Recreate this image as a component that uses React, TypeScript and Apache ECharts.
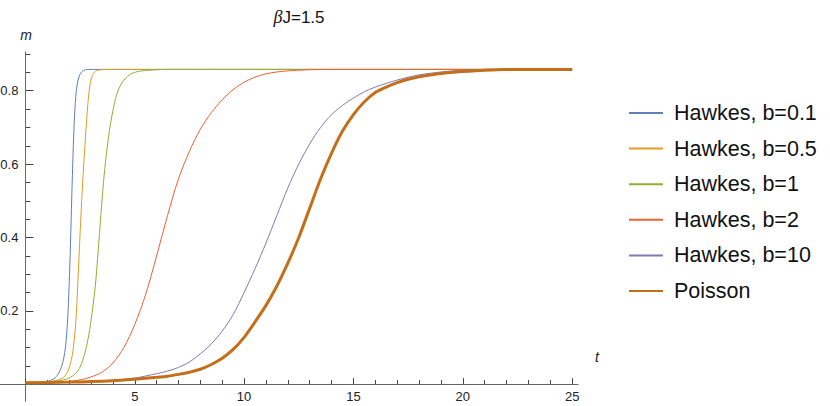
import React, { useEffect, useRef } from "react";
import * as echarts from "echarts";

const seriesNames = [
  "Hawkes, b=0.1",
  "Hawkes, b=0.5",
  "Hawkes, b=1",
  "Hawkes, b=2",
  "Hawkes, b=10",
  "Poisson",
];

const seriesColors = ["#5E81B5", "#E19C24", "#8FB032", "#EB6235", "#8778B3", "#C56E1A"];

const hawkesB01: [number, number][] = [
  [0, 0.004], [0.5, 0.005], [1.0, 0.008], [1.3, 0.015], [1.5, 0.028], [1.65, 0.048],
  [1.75, 0.07], [1.84, 0.105], [1.93, 0.175], [2.0, 0.27], [2.06, 0.38], [2.12, 0.51],
  [2.18, 0.63], [2.23, 0.71], [2.28, 0.765], [2.34, 0.805], [2.42, 0.832], [2.52, 0.847],
  [2.65, 0.855], [2.85, 0.858], [25, 0.858],
];

const hawkesB05: [number, number][] = [
  [0, 0.004], [1.0, 0.007], [1.5, 0.012], [1.8, 0.022], [2.0, 0.045], [2.16, 0.085],
  [2.3, 0.165], [2.4, 0.28], [2.5, 0.41], [2.6, 0.53], [2.7, 0.63], [2.8, 0.72],
  [2.88, 0.78], [2.96, 0.818], [3.05, 0.84], [3.2, 0.853], [3.45, 0.857], [4.0, 0.858],
  [25, 0.858],
];

const hawkesB1: [number, number][] = [
  [0, 0.004], [1.0, 0.006], [1.5, 0.009], [2.0, 0.017], [2.3, 0.03], [2.5, 0.047],
  [2.72, 0.085], [2.9, 0.135], [3.05, 0.195], [3.2, 0.27], [3.33, 0.366], [3.45, 0.46],
  [3.57, 0.55], [3.7, 0.626], [3.85, 0.695], [4.0, 0.745], [4.17, 0.789], [4.35, 0.815],
  [4.55, 0.832], [4.8, 0.845], [5.2, 0.853], [5.7, 0.856], [6.5, 0.858], [25, 0.858],
];

const hawkesB2: [number, number][] = [
  [0, 0.004], [1, 0.005], [2, 0.008], [2.5, 0.012], [3, 0.02], [3.5, 0.033], [4, 0.058],
  [4.5, 0.1], [5, 0.163], [5.5, 0.245], [6, 0.35], [6.5, 0.46], [7, 0.56], [7.5, 0.635],
  [8, 0.695], [8.5, 0.74], [9, 0.775], [9.5, 0.803], [10, 0.823], [10.5, 0.837],
  [11, 0.846], [11.5, 0.851], [12, 0.854], [13, 0.857], [14, 0.858], [25, 0.858],
];

const hawkesB10: [number, number][] = [
  [0, 0.004], [2, 0.006], [4, 0.011], [5, 0.017], [6, 0.029], [6.5, 0.036], [7, 0.046],
  [7.5, 0.061], [8, 0.083], [8.5, 0.11], [9, 0.145], [9.5, 0.19], [10, 0.25], [10.5, 0.315],
  [11, 0.385], [11.5, 0.46], [12, 0.535], [12.5, 0.6], [13, 0.655], [13.5, 0.7],
  [14, 0.735], [14.5, 0.76], [15, 0.78], [15.5, 0.797], [16, 0.81], [17, 0.829],
  [18, 0.843], [19, 0.851], [20, 0.856], [21, 0.858], [25, 0.858],
];

const poisson: [number, number][] = [
  [0, 0.004], [2, 0.006], [4, 0.01], [5, 0.014], [6, 0.019], [6.5, 0.022], [7, 0.027],
  [7.5, 0.033], [8, 0.041], [8.5, 0.054], [9, 0.071], [9.5, 0.095], [10, 0.128],
  [10.5, 0.17], [11, 0.215], [11.5, 0.268], [12, 0.33], [12.5, 0.4], [13, 0.48],
  [13.5, 0.56], [14, 0.63], [14.5, 0.69], [15, 0.735], [15.5, 0.77], [16, 0.795],
  [16.5, 0.81], [17, 0.822], [17.5, 0.831], [18, 0.838], [18.5, 0.843], [19, 0.847],
  [20, 0.852], [21, 0.856], [22, 0.858], [25, 0.858],
];

const seriesData = [hawkesB01, hawkesB05, hawkesB1, hawkesB2, hawkesB10, poisson];

// axis ticks: x majors every 5 (labels 5..25), minors every 1;
// y majors every 0.2 (labels 0.2..0.8), minors every 0.05 up to 0.9
const X_MAX = 25;
const X_MAJOR = 5;
const X_MINOR = 1;
const Y_MAX = 0.9;
const Y_MAJOR_MAX = 0.8;
const Y_MAJOR = 0.2;
const Y_MINOR = 0.05;

const FONT = "'Liberation Sans', Arial, sans-serif";
const AXIS_COLOR = "#666";
const TICK_COLOR = "#444";
const LABEL_COLOR = "#222";

export default function App() {
  const ref = useRef<HTMLDivElement>(null);

  useEffect(() => {
    if (!ref.current) return;
    const chart = echarts.init(ref.current, null, { renderer: "svg" });

    // plot geometry (pixels)
    const x0 = 25.4; // t = 0
    const pxPerT = 21.87;
    const y0 = 384.3; // m = 0
    const pxPerM = 367;
    const plotTop = y0 - Y_MAX * pxPerM;
    const plotWidth = X_MAX * pxPerT;
    const lineTop = 51.8;
    const axisRightEnd = 578;
    const axisBottomEnd = 401.2;

    const gridBase = { containLabel: false, outerBoundsMode: "none" };

    // a visible-but-empty axis (keeps every grid with a complete, rendered axis pair)
    const blankAxis = (gridIndex: number) => ({
      type: "value",
      gridIndex,
      min: 0,
      max: 1,
      show: true,
      axisLine: { show: false, onZero: false },
      axisTick: { show: false },
      axisLabel: { show: false },
      splitLine: { show: false },
    });

    // an axis whose split lines act as tick marks inside a thin strip grid
    const tickStripAxis = (gridIndex: number, max: number, interval: number) => ({
      type: "value",
      gridIndex,
      min: 0,
      max,
      interval,
      show: true,
      axisLine: { show: false, onZero: false },
      axisTick: { show: false },
      axisLabel: { show: false },
      splitLine: { show: true, lineStyle: { color: TICK_COLOR, width: 1 } },
    });

    const lineAxis = (gridIndex: number, position: string) => ({
      type: "value",
      gridIndex,
      min: 0,
      max: 1,
      position,
      splitLine: { show: false },
      axisLine: { show: true, onZero: false, lineStyle: { color: AXIS_COLOR, width: 1 } },
      axisTick: { show: false },
      axisLabel: { show: false },
    });

    chart.setOption({
      animation: false,
      backgroundColor: "#fff",
      grid: [
        // 0: plotting area
        { ...gridBase, left: x0, top: plotTop, width: plotWidth, height: y0 - plotTop },
        // 1: full-length x axis line
        { ...gridBase, left: 0, top: y0 - 50, width: axisRightEnd, height: 50 },
        // 2: full-length y axis line
        { ...gridBase, left: x0, top: lineTop, width: 50, height: axisBottomEnd - lineTop },
        // 3: x major ticks strip
        { ...gridBase, left: x0, top: y0 - 6, width: plotWidth, height: 6 },
        // 4: x minor ticks strip
        { ...gridBase, left: x0, top: y0 - 4, width: plotWidth, height: 4 },
        // 5: y major ticks strip
        { ...gridBase, left: x0, top: y0 - Y_MAJOR_MAX * pxPerM, width: 8, height: Y_MAJOR_MAX * pxPerM },
        // 6: y minor ticks strip
        { ...gridBase, left: x0, top: plotTop, width: 5, height: y0 - plotTop },
      ],
      xAxis: [
        {
          type: "value",
          gridIndex: 0,
          min: 0,
          max: X_MAX,
          interval: X_MAJOR,
          position: "bottom",
          splitLine: { show: false },
          axisLine: { show: false, onZero: false },
          axisTick: { show: true, inside: true, length: 6, lineStyle: { color: TICK_COLOR, width: 1 } },
          minorTick: { show: true, splitNumber: 5, length: 4, lineStyle: { color: TICK_COLOR, width: 1 } },
          axisLabel: {
            show: true,
            margin: 6,
            fontSize: 13,
            fontFamily: FONT,
            color: LABEL_COLOR,
            formatter: (v: number) => (v === 0 ? "" : String(v)),
          },
        },
        lineAxis(1, "bottom"),
        blankAxis(2),
        tickStripAxis(3, X_MAX, X_MAJOR),
        tickStripAxis(4, X_MAX, X_MINOR),
        blankAxis(5),
        blankAxis(6),
      ],
      yAxis: [
        {
          type: "value",
          gridIndex: 0,
          min: 0,
          max: Y_MAX,
          interval: Y_MAJOR,
          position: "left",
          splitLine: { show: false },
          axisLine: { show: false, onZero: false },
          axisTick: { show: false },
          axisLabel: {
            show: true,
            margin: 7,
            fontSize: 13,
            fontFamily: FONT,
            color: LABEL_COLOR,
            formatter: (v: number) =>
              v > 0 && Math.abs(v / Y_MAJOR - Math.round(v / Y_MAJOR)) < 1e-6 ? v.toFixed(1) : "",
          },
        },
        blankAxis(1),
        lineAxis(2, "left"),
        blankAxis(3),
        blankAxis(4),
        tickStripAxis(5, Y_MAJOR_MAX, Y_MAJOR),
        tickStripAxis(6, Y_MAX, Y_MINOR),
      ],
      legend: {
        orient: "vertical",
        left: 628,
        top: 102,
        padding: 0,
        itemWidth: 34,
        itemHeight: 14,
        itemGap: 13.6,
        selectedMode: false,
        data: seriesNames,
        itemStyle: { opacity: 0 },
        textStyle: {
          fontSize: 21.5,
          lineHeight: 22,
          fontFamily: FONT,
          color: "#111",
          padding: [0, 0, 0, 6],
        },
      },
      series: seriesData.map((data, i) => ({
        name: seriesNames[i],
        type: "line",
        xAxisIndex: 0,
        yAxisIndex: 0,
        data,
        symbol: "none",
        smooth: 0.3,
        clip: false,
        color: seriesColors[i],
        lineStyle: { color: seriesColors[i], width: i === 5 ? 3 : 1 },
        z: 2 + i,
      })),
      graphic: [
        {
          type: "text",
          x: 299,
          y: 17,
          style: {
            text: "{g|β}J=1.5",
            fontSize: 17,
            fontFamily: FONT,
            fill: "#111",
            align: "center",
            verticalAlign: "middle",
            rich: {
              g: { fontSize: 18, fontStyle: "italic", fontFamily: "'Liberation Serif', serif", fill: "#111" },
            },
          },
        },
        {
          type: "text",
          x: 26,
          y: 35,
          style: {
            text: "m",
            fontSize: 14,
            fontStyle: "italic",
            fontFamily: FONT,
            fill: "#222",
            align: "center",
            verticalAlign: "middle",
          },
        },
        {
          type: "text",
          x: 597,
          y: 357,
          style: {
            text: "t",
            fontSize: 14,
            fontStyle: "italic",
            fontFamily: FONT,
            fill: "#222",
            align: "center",
            verticalAlign: "middle",
          },
        },
      ],
    });

    return () => chart.dispose();
  }, []);

  return (
    <div
      ref={ref}
      style={{ position: "fixed", left: 0, top: 0, width: 830, height: 406, background: "#fff" }}
    />
  );
}
